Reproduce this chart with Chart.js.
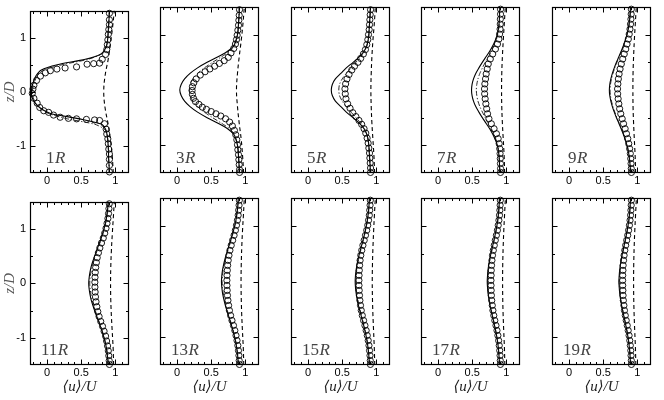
<!DOCTYPE html>
<html><head><meta charset="utf-8">
<script src="https://cdn.jsdelivr.net/npm/chart.js@4/dist/chart.umd.min.js"></script>
<style>
html,body{margin:0;padding:0;background:#fff;}
#wrap{position:relative;width:664px;height:400px;overflow:hidden;background:#fff;}
#wrap canvas{position:absolute;}
</style></head><body><div id="wrap"></div>
<script>
// ---------------- DATA ----------------
const panelNames = ['1R','3R','5R','7R','9R','11R','13R','15R','17R','19R'];
const xTickLabels = [0, 0.5, 1];
const yTickLabels = [-1, 0, 1];
const zLine = [-1.5,-1.4,-1.3,-1.2,-1.1,-1.0,-0.9,-0.8,-0.7,-0.6,-0.5,-0.4,-0.3,-0.2,-0.1,0,0.1,0.2,0.3,0.4,0.5,0.6,0.7,0.8,0.9,1.0,1.1,1.2,1.3,1.4,1.5];
const zDash = [-1.5,-1.2,-0.9,-0.6,-0.3,0,0.3,0.6,0.9,1.2,1.5];
const zCirc = [1.46,1.37,1.28,1.19,1.10,1.01,0.92,0.83,0.74,0.65,0.56,0.47,0.38,0.29,0.20,0.11,0.02,-0.07,-0.16,-0.25,-0.34,-0.43,-0.52,-0.61,-0.70,-0.79,-0.88,-0.97,-1.06,-1.15,-1.24,-1.33,-1.42,-1.49];

// 1R
const solid1R   = [0.91,0.91,0.905,0.90,0.90,0.895,0.89,0.88,0.86,0.80,0.48,0.05,-0.10,-0.18,-0.22,-0.23,-0.22,-0.195,-0.16,-0.09,0.15,0.56,0.79,0.855,0.88,0.89,0.895,0.90,0.905,0.91,0.91];
const dashdot1R = [0.91,0.91,0.905,0.90,0.90,0.895,0.89,0.88,0.85,0.70,0.30,0.02,-0.10,-0.17,-0.205,-0.215,-0.205,-0.18,-0.14,-0.05,0.22,0.60,0.80,0.86,0.88,0.89,0.895,0.90,0.905,0.91,0.91];
const dashed1R  = [0.97,0.955,0.93,0.895,0.85,0.83,0.85,0.895,0.93,0.96,0.985];
const circZ1R = [1.45,1.33,1.24,1.15,1.06,0.96,0.87,0.78,0.69,0.60,0.53,0.52,0.51,0.46,0.44,0.42,0.39,0.35,0.29,0.21,0.12,0.05,-0.03,-0.12,-0.21,-0.29,-0.35,-0.38,-0.43,-0.47,-0.49,-0.50,-0.51,-0.52,-0.53,-0.59,-0.69,-0.78,-0.87,-0.96,-1.06,-1.15,-1.25,-1.36,-1.48];
const circU1R = [0.913,0.913,0.913,0.904,0.897,0.89,0.882,0.874,0.856,0.808,0.769,0.683,0.586,0.432,0.264,0.144,0.048,-0.025,-0.097,-0.154,-0.193,-0.207,-0.217,-0.193,-0.145,-0.107,-0.049,0.023,0.095,0.192,0.312,0.432,0.576,0.696,0.769,0.841,0.865,0.874,0.89,0.897,0.904,0.913,0.913,0.913,0.913];
// 3R
const solid3R   = [0.91,0.91,0.905,0.90,0.895,0.885,0.865,0.83,0.74,0.60,0.44,0.30,0.19,0.11,0.06,0.04,0.06,0.11,0.19,0.30,0.44,0.60,0.74,0.83,0.865,0.885,0.895,0.90,0.905,0.91,0.91];
const dashdot3R = [0.91,0.91,0.905,0.90,0.895,0.885,0.865,0.835,0.77,0.65,0.52,0.40,0.30,0.23,0.19,0.18,0.19,0.23,0.30,0.40,0.52,0.65,0.77,0.835,0.865,0.885,0.895,0.90,0.905,0.91,0.91];
const dashed3R  = [0.975,0.96,0.94,0.91,0.885,0.87,0.885,0.91,0.94,0.965,0.985];
const circZ3R = [1.45,1.35,1.26,1.17,1.08,0.99,0.91,0.83,0.75,0.67,0.59,0.53,0.48,0.43,0.38,0.33,0.27,0.20,0.13,0.06,-0.01,-0.08,-0.15,-0.21,-0.26,-0.31,-0.35,-0.39,-0.43,-0.47,-0.52,-0.58,-0.65,-0.73,-0.81,-0.90,-0.99,-1.08,-1.17,-1.26,-1.35,-1.44,-1.49];
const circU3R = [0.915,0.91,0.905,0.90,0.89,0.88,0.87,0.855,0.83,0.79,0.75,0.69,0.62,0.55,0.48,0.41,0.34,0.28,0.245,0.225,0.22,0.225,0.24,0.27,0.32,0.37,0.43,0.50,0.57,0.64,0.71,0.77,0.81,0.84,0.86,0.875,0.885,0.89,0.90,0.905,0.91,0.915,0.915];
// 5R
const solid5R   = [0.91,0.91,0.905,0.90,0.895,0.89,0.88,0.86,0.82,0.75,0.66,0.56,0.48,0.40,0.355,0.34,0.355,0.40,0.48,0.56,0.66,0.75,0.82,0.86,0.88,0.89,0.895,0.90,0.905,0.91,0.91];
const dashdot5R = [0.91,0.91,0.905,0.90,0.895,0.89,0.88,0.86,0.82,0.77,0.70,0.63,0.56,0.50,0.46,0.45,0.46,0.50,0.56,0.63,0.70,0.77,0.82,0.86,0.88,0.89,0.895,0.90,0.905,0.91,0.91];
const dashed5R  = [0.975,0.965,0.95,0.935,0.925,0.92,0.925,0.935,0.95,0.97,0.985];
const circZ5R = [1.45,1.36,1.27,1.18,1.09,1.00,0.91,0.82,0.73,0.65,0.57,0.50,0.43,0.36,0.28,0.20,0.11,0.02,-0.07,-0.16,-0.25,-0.33,-0.41,-0.48,-0.55,-0.62,-0.70,-0.78,-0.87,-0.96,-1.05,-1.14,-1.23,-1.32,-1.41,-1.49];
const circU5R = [0.915,0.91,0.905,0.90,0.895,0.885,0.875,0.86,0.84,0.81,0.77,0.73,0.68,0.64,0.60,0.57,0.55,0.54,0.545,0.555,0.58,0.615,0.655,0.70,0.745,0.785,0.82,0.845,0.865,0.88,0.89,0.90,0.905,0.91,0.915,0.915];
// 7R
const solid7R   = [0.905,0.901,0.899,0.893,0.884,0.868,0.839,0.801,0.756,0.702,0.648,0.598,0.552,0.519,0.498,0.49,0.498,0.519,0.552,0.598,0.648,0.702,0.756,0.801,0.839,0.868,0.884,0.893,0.899,0.901,0.905];
const dashdot7R = [0.905,0.901,0.899,0.895,0.888,0.874,0.85,0.819,0.781,0.736,0.691,0.65,0.612,0.584,0.567,0.56,0.567,0.584,0.612,0.65,0.691,0.736,0.781,0.819,0.85,0.874,0.888,0.895,0.899,0.901,0.905];
const dashed7R  = [0.975,0.968,0.955,0.942,0.933,0.93,0.933,0.942,0.955,0.97,0.985];
const circU7R = [0.915,0.915,0.912,0.911,0.908,0.901,0.891,0.87,0.84,0.80,0.765,0.735,0.72,0.705,0.695,0.685,0.68,0.682,0.69,0.70,0.712,0.725,0.745,0.78,0.82,0.855,0.88,0.895,0.903,0.908,0.911,0.913,0.915,0.915];
// 9R
const solid9R   = [0.899,0.896,0.889,0.88,0.867,0.848,0.823,0.795,0.763,0.729,0.694,0.662,0.634,0.612,0.596,0.59,0.596,0.612,0.634,0.662,0.694,0.729,0.763,0.795,0.823,0.848,0.867,0.88,0.889,0.896,0.899];
const dashdot9R = [0.899,0.896,0.89,0.881,0.868,0.85,0.826,0.798,0.768,0.734,0.701,0.67,0.643,0.621,0.606,0.60,0.606,0.621,0.643,0.67,0.701,0.734,0.768,0.798,0.826,0.85,0.868,0.881,0.89,0.896,0.899];
const dashed9R  = [0.975,0.968,0.956,0.945,0.937,0.935,0.937,0.945,0.956,0.97,0.985];
const circU9R = [0.912,0.91,0.906,0.90,0.892,0.881,0.868,0.849,0.83,0.808,0.786,0.765,0.747,0.733,0.722,0.715,0.71,0.712,0.719,0.729,0.741,0.757,0.778,0.798,0.821,0.841,0.86,0.874,0.887,0.897,0.903,0.908,0.911,0.913];
// 11R
const solid11R   = [0.896,0.89,0.881,0.87,0.855,0.834,0.811,0.784,0.755,0.725,0.696,0.669,0.645,0.628,0.616,0.61,0.616,0.628,0.645,0.669,0.696,0.725,0.755,0.784,0.811,0.834,0.855,0.87,0.881,0.89,0.896];
const dashdot11R = [0.897,0.891,0.883,0.871,0.857,0.838,0.815,0.79,0.762,0.734,0.706,0.681,0.659,0.642,0.631,0.625,0.631,0.642,0.659,0.681,0.706,0.734,0.762,0.79,0.815,0.838,0.857,0.871,0.883,0.891,0.897];
const dashed11R  = [0.975,0.968,0.955,0.942,0.933,0.93,0.933,0.942,0.955,0.97,0.985];
const circU11R = [0.911,0.906,0.90,0.891,0.878,0.863,0.844,0.823,0.797,0.773,0.752,0.734,0.722,0.712,0.706,0.702,0.70,0.701,0.704,0.709,0.717,0.729,0.743,0.762,0.786,0.812,0.835,0.857,0.872,0.886,0.897,0.904,0.91,0.913];
// 13R
const solid13R   = [0.897,0.892,0.885,0.874,0.862,0.844,0.823,0.80,0.775,0.749,0.724,0.701,0.681,0.665,0.655,0.65,0.655,0.665,0.681,0.701,0.724,0.749,0.775,0.80,0.823,0.844,0.862,0.874,0.885,0.892,0.897];
const dashdot13R = [0.898,0.893,0.885,0.876,0.863,0.846,0.827,0.805,0.78,0.756,0.731,0.709,0.689,0.675,0.665,0.66,0.665,0.675,0.689,0.709,0.731,0.756,0.78,0.805,0.827,0.846,0.863,0.876,0.885,0.893,0.898];
const dashed13R  = [0.977,0.97,0.958,0.947,0.94,0.937,0.94,0.947,0.958,0.972,0.985];
const circU13R = [0.912,0.908,0.902,0.895,0.884,0.87,0.854,0.835,0.814,0.793,0.774,0.76,0.749,0.741,0.736,0.732,0.73,0.731,0.734,0.738,0.745,0.755,0.767,0.784,0.804,0.826,0.846,0.863,0.878,0.89,0.899,0.906,0.91,0.913];
// 15R
const solid15R   = [0.899,0.894,0.888,0.879,0.868,0.853,0.836,0.817,0.795,0.774,0.752,0.733,0.716,0.703,0.694,0.69,0.694,0.703,0.716,0.733,0.752,0.774,0.795,0.817,0.836,0.853,0.868,0.879,0.888,0.894,0.899];
const dashdot15R = [0.899,0.895,0.889,0.88,0.87,0.856,0.839,0.821,0.80,0.78,0.759,0.741,0.725,0.712,0.704,0.70,0.704,0.712,0.725,0.741,0.759,0.78,0.80,0.821,0.839,0.856,0.87,0.88,0.889,0.895,0.899];
const dashed15R  = [0.977,0.97,0.96,0.95,0.943,0.94,0.943,0.95,0.96,0.972,0.985];
const circU15R = [0.912,0.908,0.903,0.897,0.886,0.874,0.859,0.841,0.822,0.803,0.786,0.772,0.762,0.755,0.75,0.747,0.745,0.746,0.749,0.753,0.759,0.768,0.779,0.794,0.813,0.833,0.851,0.867,0.881,0.892,0.90,0.907,0.911,0.913];
// 17R
const solid17R   = [0.899,0.896,0.89,0.883,0.874,0.861,0.846,0.829,0.811,0.792,0.774,0.757,0.742,0.731,0.724,0.72,0.724,0.731,0.742,0.757,0.774,0.792,0.811,0.829,0.846,0.861,0.874,0.883,0.89,0.896,0.899];
const dashdot17R = [0.90,0.896,0.891,0.883,0.874,0.862,0.847,0.831,0.813,0.795,0.777,0.761,0.747,0.736,0.729,0.725,0.729,0.736,0.747,0.761,0.777,0.795,0.813,0.831,0.847,0.862,0.874,0.883,0.891,0.896,0.90];
const dashed17R  = [0.978,0.972,0.962,0.953,0.947,0.945,0.947,0.953,0.962,0.974,0.986];
const circU17R = [0.912,0.909,0.905,0.90,0.891,0.881,0.869,0.854,0.838,0.823,0.809,0.797,0.789,0.783,0.779,0.777,0.775,0.776,0.778,0.781,0.786,0.794,0.803,0.816,0.831,0.848,0.863,0.876,0.887,0.896,0.903,0.908,0.911,0.913];
// 19R
const solid19R   = [0.90,0.896,0.891,0.884,0.875,0.863,0.849,0.833,0.816,0.798,0.781,0.765,0.751,0.741,0.734,0.73,0.734,0.741,0.751,0.765,0.781,0.798,0.816,0.833,0.849,0.863,0.875,0.884,0.891,0.896,0.90];
const dashdot19R = [0.90,0.897,0.891,0.885,0.876,0.864,0.851,0.835,0.818,0.801,0.784,0.769,0.755,0.745,0.738,0.735,0.738,0.745,0.755,0.769,0.784,0.801,0.818,0.835,0.851,0.864,0.876,0.885,0.891,0.897,0.90];
const dashed19R  = [0.978,0.972,0.962,0.953,0.947,0.945,0.947,0.953,0.962,0.974,0.986];
const circU19R = [0.913,0.91,0.906,0.901,0.893,0.884,0.872,0.859,0.844,0.829,0.816,0.806,0.798,0.792,0.789,0.786,0.785,0.786,0.788,0.791,0.795,0.803,0.811,0.823,0.837,0.852,0.866,0.879,0.889,0.897,0.904,0.908,0.912,0.913];

// minor tick positions (axis decoration)
const xMinorTicks = [-0.2,-0.1,0.1,0.2,0.3,0.4,0.6,0.7,0.8,0.9,1.1];
const yMinorTicks = [-0.5,0.5];

// ---------------- LAYOUT ----------------
const COL_LEFT = [30, 160, 291, 421, 552];
const ROW_TOP = [7, 198];
const ROW_H = [166, 167];
const PW = 99;

const panels = [
  {name:'1R',  solid:solid1R,  dashdot:dashdot1R,  dashed:dashed1R,  cu:circU1R,  cz:circZ1R},
  {name:'3R',  solid:solid3R,  dashdot:dashdot3R,  dashed:dashed3R,  cu:circU3R,  cz:circZ3R},
  {name:'5R',  solid:solid5R,  dashdot:dashdot5R,  dashed:dashed5R,  cu:circU5R,  cz:circZ5R},
  {name:'7R',  solid:solid7R,  dashdot:dashdot7R,  dashed:dashed7R,  cu:circU7R,  cz:zCirc},
  {name:'9R',  solid:solid9R,  dashdot:dashdot9R,  dashed:dashed9R,  cu:circU9R,  cz:zCirc},
  {name:'11R', solid:solid11R, dashdot:dashdot11R, dashed:dashed11R, cu:circU11R, cz:zCirc},
  {name:'13R', solid:solid13R, dashdot:dashdot13R, dashed:dashed13R, cu:circU13R, cz:zCirc},
  {name:'15R', solid:solid15R, dashdot:dashdot15R, dashed:dashed15R, cu:circU15R, cz:zCirc},
  {name:'17R', solid:solid17R, dashdot:dashdot17R, dashed:dashed17R, cu:circU17R, cz:zCirc},
  {name:'19R', solid:solid19R, dashdot:dashdot19R, dashed:dashed19R, cu:circU19R, cz:zCirc}
];

const framePlugin = {
  id: 'frame',
  afterDraw(chart, args, opts) {
    const {ctx, chartArea: a, scales: {x, y}} = chart;
    ctx.save();
    ctx.strokeStyle = '#000';
    ctx.lineWidth = 1;
    const l = Math.round(a.left) + 0.5, r = Math.round(a.right) - 0.5;
    const t = Math.round(a.top) + 0.5, b = Math.round(a.bottom) - 0.5;
    ctx.beginPath();
    const tick = (len, px, vertical) => {
      if (vertical) {
        ctx.moveTo(px, b); ctx.lineTo(px, b - len);
        ctx.moveTo(px, t); ctx.lineTo(px, t + len);
      } else {
        ctx.moveTo(l, px); ctx.lineTo(l + len, px);
        ctx.moveTo(r, px); ctx.lineTo(r - len, px);
      }
    };
    xTickLabels.forEach(v => tick(5, Math.round(x.getPixelForValue(v)) + 0.5, true));
    xMinorTicks.forEach(v => tick(2.5, Math.round(x.getPixelForValue(v)) + 0.5, true));
    yTickLabels.forEach(v => tick(5, Math.round(y.getPixelForValue(v)) + 0.5, false));
    yMinorTicks.forEach(v => tick(2.5, Math.round(y.getPixelForValue(v)) + 0.5, false));
    ctx.stroke();
    ctx.lineWidth = 1.2;
    ctx.strokeRect(l, t, r - l, b - t);
    // panel label
    const m = opts.label.match(/^(\d+)(R)$/);
    ctx.fillStyle = '#444';
    ctx.textBaseline = 'alphabetic';
    ctx.font = '17px "Liberation Serif", serif';
    const x0 = a.left + (m[1].length > 1 ? 11 : 16);
    const yb = a.bottom - 10;
    ctx.fillText(m[1], x0, yb);
    const w = ctx.measureText(m[1]).width;
    ctx.font = 'italic 17px "Liberation Serif", serif';
    ctx.fillText(m[2], x0 + w + 0.5, yb);
    ctx.restore();
  }
};

const wrap = document.getElementById('wrap');

panels.forEach((p, i) => {
  const row = i < 5 ? 0 : 1, col = i % 5;
  const L = COL_LEFT[col], T = ROW_TOP[row], H = ROW_H[row];
  const bottomH = row ? 35 : 25;
  const W = 30 + PW + 5, CH = 7 + H + bottomH;
  const cv = document.createElement('canvas');
  cv.width = W; cv.height = CH;
  cv.style.left = (L - 30) + 'px';
  cv.style.top = (T - 7) + 'px';
  cv.style.width = W + 'px'; cv.style.height = CH + 'px';
  wrap.appendChild(cv);
  const isLeft = col === 0, isBottom = row === 1;

  new Chart(cv, {
    type: 'scatter',
    data: {
      datasets: [
        { data: zDash.map((z, j) => ({x: p.dashed[j], y: z})), showLine: true, pointRadius: 0,
          borderColor: '#000', borderWidth: 1.1, borderDash: [4, 3], tension: 0.4, fill: false },
        { data: zLine.map((z, j) => ({x: p.dashdot[j], y: z})), showLine: true, pointRadius: 0,
          borderColor: '#111', borderWidth: 0.9, borderDash: [5, 2, 1.2, 2], tension: 0.25, fill: false },
        { data: zLine.map((z, j) => ({x: p.solid[j], y: z})), showLine: true, pointRadius: 0,
          borderColor: '#000', borderWidth: 1.1, tension: 0.25, fill: false },
        { data: p.cz.map((z, j) => ({x: p.cu[j], y: z})), showLine: false,
          pointStyle: 'circle', pointRadius: 3.1, pointBorderWidth: 0.9,
          pointBorderColor: '#000', pointBackgroundColor: 'rgba(0,0,0,0)', clip: false }
      ]
    },
    options: {
      responsive: false, animation: false, devicePixelRatio: 1,
      layout: { padding: { left: 0, right: 5, top: 7, bottom: 0 } },
      plugins: { legend: { display: false }, tooltip: { enabled: false }, frame: { label: p.name } },
      events: [],
      scales: {
        x: {
          type: 'linear', min: -0.25, max: 1.2, position: 'bottom',
          grid: { display: false, drawTicks: false }, border: { display: false },
          ticks: { color: '#000', font: { family: '"Liberation Sans", Arial, sans-serif', size: 11 },
                   padding: 1, maxRotation: 0, autoSkip: false, callback: v => String(v) },
          afterBuildTicks: s => { s.ticks = xTickLabels.map(v => ({ value: v })); },
          afterFit: s => { s.height = bottomH; },
          title: { display: isBottom, text: '\u27E8u\u27E9/U', color: '#222',
                   font: { family: '"Liberation Serif", "DejaVu Serif", serif', style: 'italic', size: 15 },
                   padding: { top: 0, bottom: 4 } }
        },
        y: {
          type: 'linear', min: -1.5, max: 1.5, position: 'left',
          grid: { display: false, drawTicks: false }, border: { display: false },
          ticks: { display: isLeft, color: '#000', font: { family: '"Liberation Sans", Arial, sans-serif', size: 11 },
                   padding: 4, autoSkip: false, callback: v => String(v) },
          afterBuildTicks: s => { s.ticks = yTickLabels.map(v => ({ value: v })); },
          afterFit: s => { s.width = 30; },
          title: { display: isLeft, text: 'z/D', color: '#555',
                   font: { family: '"Liberation Serif", serif', style: 'italic', size: 15 },
                   padding: { top: 1, bottom: 0 } }
        }
      }
    },
    plugins: [framePlugin]
  });
});
</script>
</body></html>
